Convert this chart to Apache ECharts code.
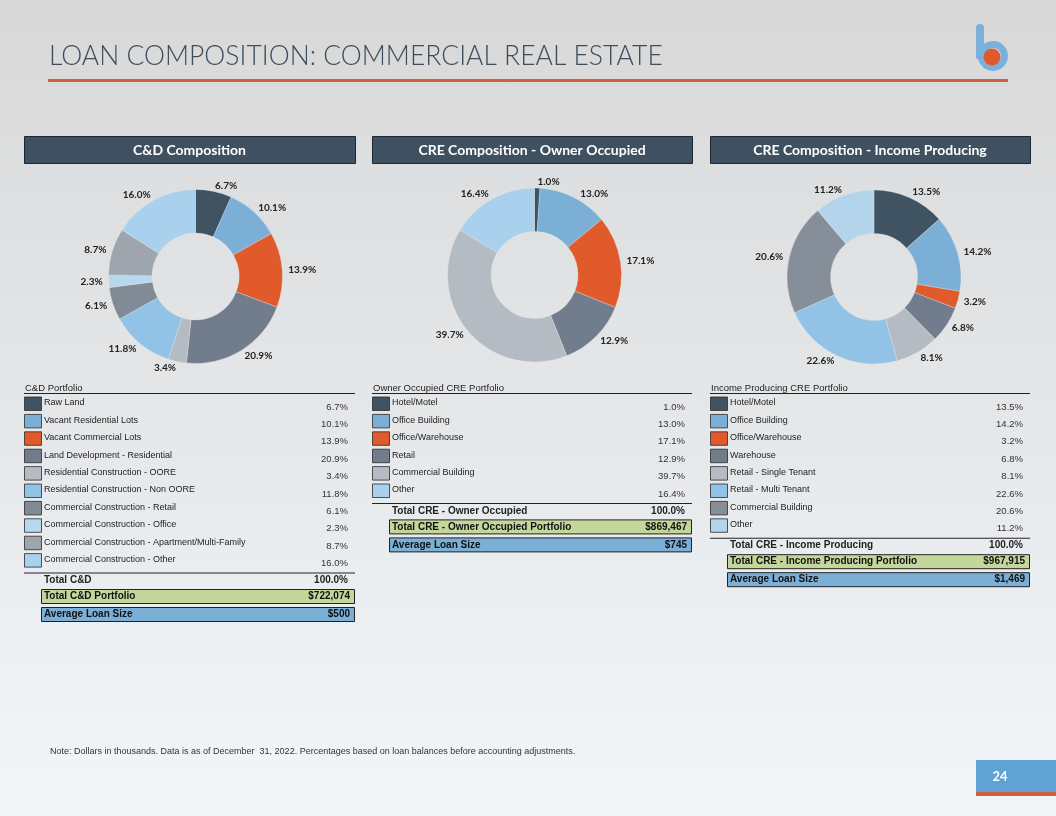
<!DOCTYPE html>
<html><head><meta charset="utf-8">
<script src="https://cdn.jsdelivr.net/npm/echarts@6/dist/echarts.min.js"></script>
<style>
html,body{margin:0;padding:0;}
body{width:1056px;height:816px;overflow:hidden;background:linear-gradient(to bottom,#d8d8d8 0%,#e3e5e7 45%,#f3f6f9 100%);}
#chart{width:1056px;height:816px;}
</style></head><body><div id="chart"></div>
<script>
// ---- data ----
const pageTitle = 'LOAN COMPOSITION: COMMERCIAL REAL ESTATE';
const panelTitles = ['C&D Composition', 'CRE Composition - Owner Occupied', 'CRE Composition - Income Producing'];
const tableTitles = ['C&D Portfolio', 'Owner Occupied CRE Portfolio', 'Income Producing CRE Portfolio'];

const cdCategories = ['Raw Land', 'Vacant Residential Lots', 'Vacant Commercial Lots', 'Land Development - Residential', 'Residential Construction - OORE', 'Residential Construction - Non OORE', 'Commercial Construction - Retail', 'Commercial Construction - Office', 'Commercial Construction - Apartment/Multi-Family', 'Commercial Construction - Other'];
const cdValues = [6.7, 10.1, 13.9, 20.9, 3.4, 11.8, 6.1, 2.3, 8.7, 16.0];

const ooCategories = ['Hotel/Motel', 'Office Building', 'Office/Warehouse', 'Retail', 'Commercial Building', 'Other'];
const ooValues = [1.0, 13.0, 17.1, 12.9, 39.7, 16.4];

const ipCategories = ['Hotel/Motel', 'Office Building', 'Office/Warehouse', 'Warehouse', 'Retail - Single Tenant', 'Retail - Multi Tenant', 'Commercial Building', 'Other'];
const ipValues = [13.5, 14.2, 3.2, 6.8, 8.1, 22.6, 20.6, 11.2];

const totalLabels = ['Total C&D', 'Total CRE - Owner Occupied', 'Total CRE - Income Producing'];
const totalValues = ['100.0%', '100.0%', '100.0%'];
const portfolioLabels = ['Total C&D Portfolio', 'Total CRE - Owner Occupied Portfolio', 'Total CRE - Income Producing Portfolio'];
const portfolioValues = ['$722,074', '$869,467', '$967,915'];
const avgLabel = 'Average Loan Size';
const avgValues = ['$500', '$745', '$1,469'];

const noteText = 'Note: Dollars in thousands. Data is as of December  31, 2022. Percentages based on loan balances before accounting adjustments.';
const pageNumber = '24';

// ---- styles ----
const cdColors = ['#3f5363', '#7bafd6', '#e05a2b', '#717d8c', '#b5bbc2', '#92c3e6', '#808b96', '#b8d8ee', '#9ea5ad', '#a9d0ec'];
const ooColors = ['#3f5363', '#7bafd6', '#e05a2b', '#717d8c', '#b5bbc2', '#a9d0ec'];
const ipColors = ['#3f5363', '#7bafd6', '#e05a2b', '#717d8c', '#b5bbc2', '#92c3e6', '#868f99', '#b3d4ea'];

const panels = [
  {x: 24, w: 331, cx: 195.5, cy: 276.5, cats: cdCategories, vals: cdValues, colors: cdColors},
  {x: 372, w: 320, cx: 534.5, cy: 275, cats: ooCategories, vals: ooValues, colors: ooColors},
  {x: 710, w: 320, cx: 874, cy: 277, cats: ipCategories, vals: ipValues, colors: ipColors}
];

const chart = echarts.init(document.getElementById('chart'), null, {renderer: 'canvas'});

function txt(x, y, text, font, fill, align, vAlign) {
  return {type: 'text', x: x, y: y, silent: true, z: 10,
    style: {text: text, font: font, fill: fill, align: align || 'left', verticalAlign: vAlign || 'middle',
            textAlign: align || 'left', textVerticalAlign: vAlign || 'middle'}};
}
function rect(x, y, w, h, fill, stroke, lw) {
  return {type: 'rect', silent: true, z: 5, shape: {x: x, y: y, width: w, height: h},
    style: {fill: fill, stroke: stroke || null, lineWidth: lw || 0}};
}

const graphics = [];
// title + rule
graphics.push(txt(49, 56, pageTitle, '300 26.5px Lato', '#3e4d5b'));
graphics.push(rect(48, 79, 960, 3, '#d0603a'));
// logo
graphics.push({type: 'rect', silent: true, shape: {x: 976, y: 24, width: 8, height: 36, r: 4}, style: {fill: '#79b0dc'}});
graphics.push({type: 'circle', silent: true, shape: {cx: 993, cy: 56, r: 11.5}, style: {fill: 'none', stroke: '#79b0dc', lineWidth: 7}});
graphics.push({type: 'circle', silent: true, shape: {cx: 992, cy: 57, r: 8.5}, style: {fill: '#e05a2b'}});

const rowTop0 = 397, pitch = 17.4;
panels.forEach((p, k) => {
  // header
  graphics.push(rect(p.x + 0.5, 136.5, p.w, 27, '#3f5161', '#1c2630', 1));
  graphics.push(txt(p.x + p.w / 2, 150, panelTitles[k], 'bold 14px Lato', '#ffffff', 'center'));
  // table
  graphics.push(txt(p.x + 1, 388, tableTitles[k], '9.5px "Liberation Sans", Arial', '#222'));
  graphics.push(rect(p.x, 393, p.w, 1, '#222'));
  p.cats.forEach((c, i) => {
    const y = rowTop0 + i * pitch;
    graphics.push(rect(p.x + 0.5, y, 17, 13.5, p.colors[i], '#2a2a2a', 0.8));
    graphics.push(txt(p.x + 20, y + 6, c, '9px "Liberation Sans", Arial', '#222'));
    graphics.push(txt(p.x + p.w - 7, y + 10, p.vals[i].toFixed(1) + '%', '9.5px "Liberation Sans", Arial', '#333', 'right'));
  });
  const lineY = rowTop0 + p.cats.length * pitch + 1.5;
  graphics.push(rect(p.x, lineY, p.w, 1, '#222'));
  graphics.push(txt(p.x + 20, lineY + 8, totalLabels[k], 'bold 10px "Liberation Sans", Arial', '#222'));
  graphics.push(txt(p.x + p.w - 7, lineY + 8, totalValues[k], 'bold 10px "Liberation Sans", Arial', '#222', 'right'));
  graphics.push(rect(p.x + 17.5, lineY + 17, p.w - 18, 14, '#c4d79b', '#222', 1));
  graphics.push(txt(p.x + 20, lineY + 24, portfolioLabels[k], 'bold 10px "Liberation Sans", Arial', '#111'));
  graphics.push(txt(p.x + p.w - 5, lineY + 24, portfolioValues[k], 'bold 10px "Liberation Sans", Arial', '#111', 'right'));
  graphics.push(rect(p.x + 17.5, lineY + 35, p.w - 18, 14, '#7bafd6', '#222', 1));
  graphics.push(txt(p.x + 20, lineY + 42, avgLabel, 'bold 10px "Liberation Sans", Arial', '#111'));
  graphics.push(txt(p.x + p.w - 5, lineY + 42, avgValues[k], 'bold 10px "Liberation Sans", Arial', '#111', 'right'));
});

// note + page number
graphics.push(txt(50, 752, noteText, '9px "Liberation Sans", Arial', '#333'));
graphics.push(rect(976, 760, 80, 32, '#5ea3d3'));
graphics.push(rect(976, 792, 80, 4, '#d0603a'));
graphics.push(txt(1000, 777, pageNumber, 'bold 13px Lato', '#ffffff', 'center'));

const series = panels.map(p => ({
  type: 'pie',
  center: [p.cx, p.cy],
  radius: [43.5, 87],
  startAngle: 90,
  clockwise: true,
  avoidLabelOverlap: true,
  data: p.cats.map((c, i) => ({name: c, value: p.vals[i], itemStyle: {color: p.colors[i]}})),
  itemStyle: {borderColor: 'rgba(235,235,235,0.6)', borderWidth: 0.5},
  label: {show: true, position: 'outside', formatter: (d) => d.value.toFixed(1) + '%',
    fontFamily: 'Lato', fontWeight: 'bold', fontSize: 10, color: '#222', distanceToLabelLine: 0},
  labelLine: {show: false, length: 6, length2: 0},
  emphasis: {disabled: true},
  silent: true
}));

chart.setOption({
  animation: false,
  backgroundColor: 'transparent',
  series: series,
  graphic: {elements: graphics}
});
</script></body></html>
